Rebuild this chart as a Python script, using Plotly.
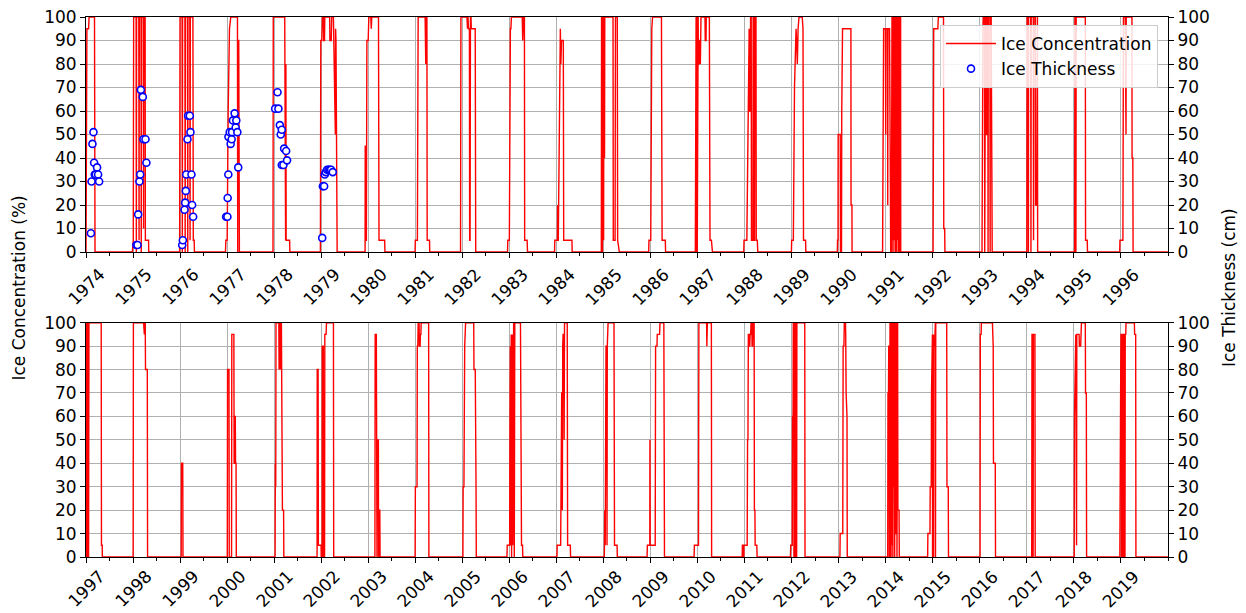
import datetime as dt
import plotly.graph_objects as go

# ---------------- Ice concentration (%) : (day offset from Jan 1 of the year, value) ----------------
ice_1974 = [(0,0),(2,60),(4,0),(7,95),(20,95),(24,100),(66,100),(70,0)]
ice_1975 = [(-5,0),(-3,5),(2,5),(5,100),(24,100),(26,0),(28,100),(45,100),(47,5),(49,100),(62,100),(64,0),(66,100),
            (80,100),(82,10),(84,100),(94,100),(96,5),(121,5),(122,0)]
ice_1976 = [(-3,0),(0,100),(16,100),(18,0),(20,100),(38,100),(40,0),(42,100),(58,100),(60,0),(62,100),(76,100),
            (78,5),(80,100),(100,100),(103,5),(110,5),(112,0)]
ice_1977 = [(-13,0),(-10,5),(0,5),(5,60),(8,60),(18,95),(28,100),(80,100),(82,0),(84,90),(90,90),(95,0)]
ice_1978 = [(-9,0),(-7,100),(82,100),(84,5),(89,5),(91,80),(93,5),(120,5),(122,0)]
ice_1979 = [(-6,0),(-3,90),(5,90),(10,100),(18,100),(20,90),(26,90),(28,100),(66,100),(68,90),(78,90),(82,100),
            (95,100),(110,50),(112,95),(115,90),(124,0)]
ice_1980 = [(-24,0),(-23,45),(-20,45),(-18,5),(-14,5),(-10,90),(0,90),(5,100),(20,100),(24,95),(28,100),(80,100),
            (84,5),(128,5),(130,0)]
ice_1981 = [(-2,0),(0,5),(16,5),(22,100),(76,100),(78,80),(81,80),(83,100),(90,100),(92,5),(110,5),(112,0)]
ice_1982 = [(-14,0),(-11,100),(36,100),(40,95),(44,100),(48,95),(55,95),(57,5),(60,5),(63,100),(67,100),(70,95),
            (100,95),(104,0)]
ice_1983 = [(-14,0),(-12,5),(0,5),(8,95),(12,95),(16,100),(100,100),(104,90),(110,100),(117,100),(119,5),(138,5),(141,0)]
ice_1984 = [(-14,0),(-12,5),(8,5),(10,20),(12,5),(15,5),(26,95),(31,95),(35,80),(40,90),(54,90),(57,5),(121,5),(123,0)]
ice_1985 = [(-17,0),(-15,100),(-9,100),(-8,0),(-6,100),(0,100),(1,5),(3,100),(7,100),(8,40),(10,100),(74,100),
            (76,5),(90,5),(93,100),(107,100),(110,5),(123,0)]
ice_1986 = [(-14,0),(-12,5),(2,5),(10,95),(16,100),(85,100),(90,5),(115,5),(117,0)]
ice_1987 = [(-17,0),(-15,100),(-11,100),(-10,0),(-8,100),(-3,100),(-2,0),(1,100),(5,100),(7,80),(12,80),(14,90),
            (19,90),(22,80),(27,100),(58,100),(60,90),(66,90),(68,100),(92,100),(97,5),(108,5),(116,0)]
ice_1988 = [(-6,0),(-4,5),(18,5),(33,95),(36,95),(40,60),(44,60),(47,100),(52,100),(54,5),(65,5),(67,100),(71,100),
            (73,5),(78,5),(80,100),(89,100),(91,5),(99,5),(103,0)]
ice_1989 = [(-2,0),(0,5),(13,5),(22,70),(30,90),(34,95),(38,90),(44,80),(50,95),(57,100),(82,100),(88,95),(92,5),
            (108,5),(110,0)]
ice_1990 = [(-10,0),(-9,5),(-5,5),(-4,50),(12,50),(14,0),(22,0),(24,60),(30,95),(95,95),(96,20),(103,20),(104,0)]
ice_1991 = [(-24,0),(-22,60),(-18,60),(-16,95),(-2,95),(0,50),(2,95),(14,95),(16,20),(18,95),(30,95),(33,50),(36,50),
            (39,0),(44,0),(46,100),(49,100),(50,0),(52,100),(56,100),(57,5),(59,100),(63,100),(64,0),(66,100),(70,100),
            (71,5),(73,100),(77,100),(78,0),(80,100),(84,100),(85,0),(87,100),(91,100),(92,5),(94,100),(98,100),
            (99,0),(101,100),(105,100),(106,0),(108,100),(112,100),(113,0),(115,100),(116,100),(117,0)]
ice_1992 = [(3,0),(8,95),(40,95),(44,100),(84,100),(86,10),(93,10),(95,0)]
ice_1993 = [(17,0),(19,95),(24,95),(26,100),(36,100),(38,0),(40,100),(44,100),(46,50),(52,50),(54,100),(62,100),
            (64,0),(66,100),(78,100),(80,0),(82,100),(88,100),(90,20),(94,20),(96,0)]
ice_1994 = [(0,0),(2,100),(10,100),(12,0),(14,100),(30,100),(32,0),(34,100),(50,100),(52,5),(54,100),(66,100),
            (68,20),(78,20),(80,100),(82,100),(84,0)]
ice_1995 = [(6,0),(8,100),(15,100),(16,0),(18,100),(89,100),(91,5),(104,5),(106,0)]
ice_1996 = [(-9,0),(-7,5),(16,5),(20,100),(34,100),(36,50),(40,50),(42,100),(86,100),(87,40),(93,40),(95,0)]

ice_1997 = [(0,0),(2,100),(8,100),(9,0),(12,100),(19,100),(20,0),(23,100),(118,100),(120,5),(126,5),(127,0)]
ice_1998 = [(1,0),(3,100),(82,100),(84,95),(88,95),(90,100),(95,100),(97,80),(111,80),(113,0)]
ice_1999 = [(9,0),(11,40),(21,40),(23,0)]
ice_2000 = [(2,0),(4,80),(15,80),(17,0),(35,0),(37,95),(53,95),(55,40),(58,40),(60,60),(64,60),(66,40),(70,40),(72,0)]
ice_2001 = [(7,0),(9,40),(12,30),(14,100),(36,100),(38,80),(40,100),(47,100),(49,80),(52,100),(56,100),(58,80),
            (62,80),(64,20),(73,20),(75,0)]
ice_2002 = [(-32,0),(-31,80),(-24,80),(-22,5),(-1,5),(0,0),(7,0),(8,90),(16,90),(18,0),(26,0),(28,95),(38,95),
            (41,100),(95,100),(97,0)]
ice_2003 = [(52,0),(54,95),(63,95),(64,0),(66,50),(68,0),(70,50),(79,50),(80,0),(84,0),(86,20),(90,20),(92,0)]
ice_2004 = [(-1,0),(1,30),(14,30),(16,90),(20,90),(23,100),(30,100),(32,90),(38,90),(40,95),(44,95),(46,100),
            (104,100),(106,0)]
ice_2005 = [(4,0),(6,30),(12,30),(18,90),(25,100),(88,100),(90,80),(100,80),(101,30),(106,30),(108,0)]
ice_2006 = [(-19,0),(-17,5),(2,5),(4,50),(7,90),(9,5),(14,95),(17,0),(22,95),(26,5),(30,95),(33,100),
            (38,0),(42,100),(86,100),(88,20),(92,20),(94,5),(102,5),(104,0)]
ice_2007 = [(4,0),(6,5),(33,5),(36,50),(38,5),(41,70),(44,70),(46,20),(49,90),(52,95),(58,95),(60,50),(63,100),
            (84,100),(87,5),(108,5),(110,0)]
ice_2008 = [(7,0),(10,20),(14,5),(16,20),(20,90),(26,90),(28,5),(30,90),(36,100),(82,100),(86,5),(106,5),(108,0)]
ice_2009 = [(-27,0),(-25,5),(-6,5),(-5,50),(-3,5),(36,5),(39,90),(50,90),(52,95),(70,95),(73,100),(103,100),(108,0)]
ice_2010 = [(-27,0),(-25,5),(7,5),(10,100),(70,100),(72,90),(76,100),(107,100),(109,0)]
ice_2011 = [(-19,0),(-17,5),(-10,5),(-9,0),(-6,0),(-5,5),(20,5),(23,50),(26,50),(29,95),(33,95),(35,90),(40,90),
            (43,95),(47,95),(50,100),(56,100),(58,90),(62,90),(66,100),(74,100),(76,20),(80,20),(82,5),(95,5),(97,0)]
ice_2012 = [(-9,0),(-7,5),(5,5),(7,60),(11,60),(13,100),(17,100),(18,0),(20,100),(24,100),(25,0),(27,100),(31,100),
            (32,0),(34,100),(38,100),(39,0),(41,100),(102,100),(104,0)]
ice_2013 = [(9,0),(11,10),(31,10),(34,90),(40,90),(43,100),(52,100),(54,95),(57,70),(60,60),(64,60),(66,0)]
ice_2014 = [(15,0),(17,70),(21,70),(23,90),(26,90),(27,0),(29,100),(33,100),(34,0),(36,100),(40,100),(41,0),
            (43,100),(47,100),(48,5),(50,100),(54,100),(55,0),(57,100),(61,100),(62,30),(64,100),(68,100),(69,0),
            (71,100),(75,100),(76,10),(80,10),(82,100),(86,100),(87,0),(89,100),(92,100),(94,20),(103,20),(105,0)]
ice_2015 = [(-40,0),(-38,10),(-22,10),(-20,30),(-12,30),(-10,70),(-6,95),(-3,95),(-2,0),(0,95),(5,95),(6,0),
            (8,90),(14,90),(16,100),(20,100),(21,0),(23,100),(108,100),(110,30),(120,30),(122,0)]
ice_2016 = [(2,0),(4,95),(10,95),(12,100),(98,100),(100,95),(104,90),(106,40),(120,40),(122,0)]
ice_2017 = [(37,0),(39,95),(44,95),(45,0),(48,0),(50,95),(62,95),(64,0)]
ice_2018 = [(2,0),(4,60),(8,80),(12,80),(14,95),(20,5),(22,95),(40,95),(42,90),(52,90),(54,95),(58,100),(88,100),
            (90,70),(96,70),(98,0)]
ice_2019 = [(-9,0),(-7,80),(-2,80),(0,95),(4,95),(5,0),(7,95),(12,95),(13,0),(15,95),(21,95),(22,0),(24,95),
            (30,95),(31,0),(33,95),(37,95),(39,100),(104,100),(106,95),(114,95),(116,0)]

top_years = list(range(1974, 1997))
bottom_years = list(range(1997, 2020))
top_end = ("1996-12-31", 0)
bottom_end = ("2019-12-31", 0)

# ---------------- Ice thickness (cm) ----------------
thick_dates = [
    "1974-02-08","1974-02-13","1974-02-20","1974-02-28","1974-03-05","1974-03-10","1974-03-18","1974-03-28","1974-04-05","1974-04-13",
    "1975-01-27","1975-02-05","1975-02-10","1975-02-20","1975-02-26","1975-03-03","1975-03-18","1975-03-23","1975-04-08","1975-04-15",
    "1976-01-18","1976-01-23","1976-02-05","1976-02-10","1976-02-15","1976-02-18","1976-02-28","1976-03-04","1976-03-17","1976-03-22",
    "1976-03-30","1976-04-04","1976-04-12",
    "1976-12-24","1977-01-03","1977-01-05","1977-01-10","1977-01-11","1977-01-21","1977-01-28","1977-02-05","1977-02-08","1977-02-15",
    "1977-02-28","1977-03-08","1977-03-13","1977-03-21","1977-03-28",
    "1978-01-09","1978-01-27","1978-02-03","1978-02-14","1978-02-21","1978-03-01","1978-03-01","1978-03-14","1978-03-19","1978-04-04",
    "1978-04-11",
    "1979-01-09","1979-01-14","1979-01-24","1979-01-29","1979-02-06","1979-02-16","1979-02-27","1979-03-09","1979-03-19","1979-04-01",
]
thick_cm = [
    8, 30, 46, 51, 38, 33, 33, 36, 33, 30,
    3, 3, 16, 30, 33, 69, 66, 48, 48, 38,
    3, 5, 18, 21, 26, 33, 48, 58, 58, 51, 33, 20, 15,
    15, 15, 23, 33, 49, 51, 46, 48, 51, 56, 59, 53, 56, 51, 36,
    61, 68, 61, 54, 50, 52, 37, 37, 44, 43, 39,
    6, 28, 28, 33, 34, 35, 35, 35, 35, 34,
]

top_ticks = [str(y) for y in range(1974, 1997)]
bottom_ticks = [str(y) for y in range(1997, 2020)]
y_ticks = list(range(0, 101, 10))


def build(years, end):
    xs, ys = [], []
    g = globals()
    for yr in years:
        base = dt.date(yr, 1, 1)
        for off, v in g[f"ice_{yr}"]:
            xs.append(base + dt.timedelta(days=off))
            ys.append(v)
    xs.append(dt.date.fromisoformat(end[0]))
    ys.append(end[1])
    return xs, ys


tx, ty = build(top_years, top_end)
bx, by = build(bottom_years, bottom_end)

FONT = "DejaVu Sans"
FS = 17
fig = go.Figure()
fig.add_trace(go.Scatter(x=tx, y=ty, mode="lines", name="Ice Concentration",
                         line=dict(color="red", width=1.4), xaxis="x", yaxis="y"))
fig.add_trace(go.Scatter(x=thick_dates, y=thick_cm, mode="markers", name="Ice Thickness",
                         marker=dict(symbol="circle", size=7, color="white",
                                     line=dict(color="blue", width=1.6)),
                         xaxis="x", yaxis="y2"))
fig.add_trace(go.Scatter(x=bx, y=by, mode="lines", name="Ice Concentration", showlegend=False,
                         line=dict(color="red", width=1.4), xaxis="x2", yaxis="y3"))
fig.add_trace(go.Scatter(x=[], y=[], mode="markers", showlegend=False, hoverinfo="skip",
                         xaxis="x2", yaxis="y4"))

top_dom = [0.5648, 1.0]
bot_dom = [0.0, 0.4339]

xcommon = dict(type="date", showline=True, linecolor="black", linewidth=1, mirror=True,
               ticks="outside", ticklen=5, tickwidth=1, tickcolor="black",
               showticklabels=False, automargin=False,
               showgrid=True, gridcolor="#b0b0b0", gridwidth=1, zeroline=False,
               minor=dict(dtick="M6", ticks="outside", ticklen=3, tickcolor="black", showgrid=False))
ycommon = dict(range=[0, 100], tickvals=y_ticks, showline=True, linecolor="black", linewidth=1,
               ticks="outside", ticklen=5, tickwidth=1, tickcolor="black", zeroline=False,
               automargin=False, tickfont=dict(family=FONT, size=FS, color="black"))

annotations = []
for t in top_ticks:
    annotations.append(dict(text=t, x=f"{t}-01-01", xref="x", y=(557 - 287) / 540, yref="paper",
                            textangle=-45, xanchor="center", yanchor="middle", showarrow=False,
                            font=dict(family=FONT, size=FS, color="black")))
for t in bottom_ticks:
    annotations.append(dict(text=t, x=f"{t}-01-01", xref="x2", y=(557 - 589) / 540, yref="paper",
                            textangle=-45, xanchor="center", yanchor="middle", showarrow=False,
                            font=dict(family=FONT, size=FS, color="black")))
annotations += [
    dict(text="Ice Concentration (%)", xref="paper", yref="paper", x=(19.5 - 86) / 1082, y=0.498,
         xanchor="center", yanchor="middle", textangle=-90, showarrow=False,
         font=dict(family=FONT, size=FS, color="black")),
    dict(text="Ice Thickness (cm)", xref="paper", yref="paper", x=(1229 - 86) / 1082, y=0.498,
         xanchor="center", yanchor="middle", textangle=-90, showarrow=False,
         font=dict(family=FONT, size=FS, color="black")),
]

fig.update_layout(
    width=1246, height=613,
    margin=dict(l=86, r=78, t=17, b=56),
    paper_bgcolor="white", plot_bgcolor="white",
    font=dict(family=FONT, size=FS, color="black"),
    xaxis=dict(xcommon, range=["1974-01-01", "1997-01-01"], anchor="y",
               tickvals=[f"{t}-01-01" for t in top_ticks]),
    xaxis2=dict(xcommon, range=["1997-01-01", "2020-01-01"], anchor="y3",
                tickvals=[f"{t}-01-01" for t in bottom_ticks]),
    yaxis=dict(ycommon, domain=top_dom, anchor="x", showgrid=True, gridcolor="#b0b0b0", mirror=True),
    yaxis2=dict(ycommon, overlaying="y", side="right", anchor="x", showgrid=False),
    yaxis3=dict(ycommon, domain=bot_dom, anchor="x2", showgrid=True, gridcolor="#b0b0b0", mirror=True),
    yaxis4=dict(ycommon, overlaying="y3", side="right", anchor="x2", showgrid=False),
    legend=dict(x=(1158 - 86) / 1082, y=(557 - 25) / 540, xanchor="right", yanchor="top",
                bgcolor="rgba(255,255,255,0.85)", bordercolor="#cccccc", borderwidth=1,
                itemwidth=50, tracegroupgap=0,
                font=dict(family=FONT, size=FS, color="black")),
    annotations=annotations,
    showlegend=True,
)

fig.write_html("out.html")
